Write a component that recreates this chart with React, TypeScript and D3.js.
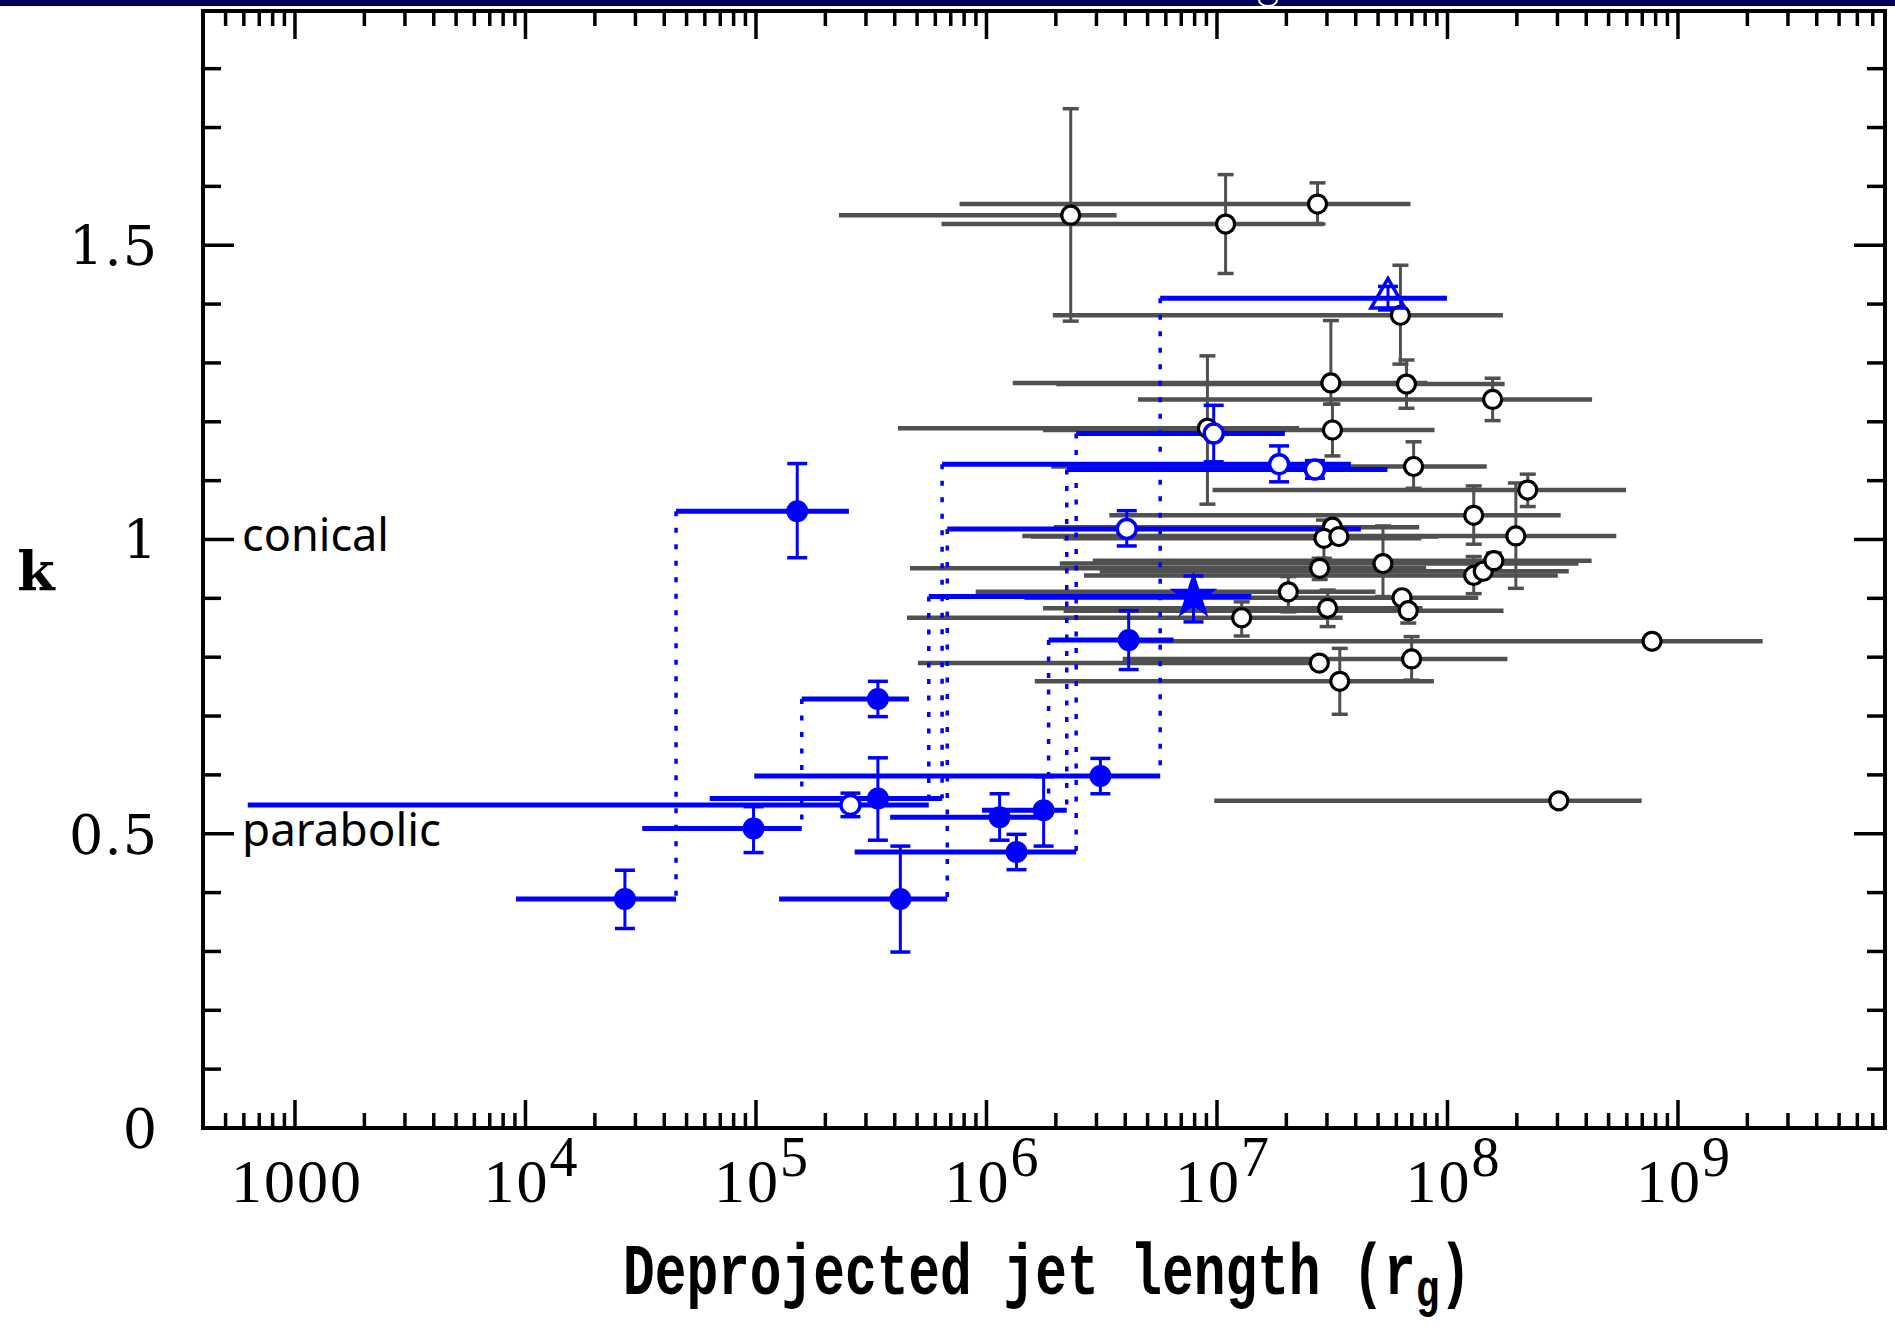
import React from 'react';
import * as d3 from 'd3';

// ---------------- data ----------------
// grey sample (open black circles, grey bars)
const grayX = [2.32e6, 1.09e7, 2.73e7, 6.25e7, 3.12e7, 6.64e7, 1.57e8, 9.09e6, 3.17e7, 7.13e7, 2.23e8, 1.30e8, 1.98e8, 3.17e7, 2.91e7, 3.38e7, 5.25e7, 2.79e7, 1.30e8, 1.43e8, 1.59e8, 2.04e7, 6.35e7, 6.76e7, 1.28e7, 3.02e7, 7.72e8, 6.99e7, 2.78e7, 3.41e7, 3.04e8];
const grayK = [1.551, 1.536, 1.570, 1.381, 1.266, 1.264, 1.238, 1.189, 1.186, 1.124, 1.084, 1.041, 1.006, 1.021, 1.002, 1.005, 0.959, 0.951, 0.939, 0.946, 0.964, 0.911, 0.901, 0.879, 0.867, 0.883, 0.827, 0.797, 0.790, 0.759, 0.556];
const grayKLo = [1.371, 1.452, 1.536, 1.298, 1.230, 1.223, 1.202, 1.060, 1.142, 1.087, 1.056, 0.992, 0.917, 1.021, 0.968, 1.005, 0.903, 0.932, 0.908, 0.946, 0.950, 0.877, 0.901, 0.858, 0.836, 0.852, 0.827, 0.761, 0.790, 0.703, 0.556];
const grayKHi = [1.732, 1.620, 1.606, 1.466, 1.372, 1.305, 1.274, 1.312, 1.230, 1.166, 1.111, 1.091, 1.096, 1.021, 1.033, 1.005, 1.023, 0.968, 0.971, 0.946, 0.977, 0.937, 0.901, 0.900, 0.894, 0.914, 0.827, 0.835, 0.790, 0.815, 0.556];
const grayXMin = [2.29e5, 6.38e5, 7.64e5, 1.94e6, 1.30e6, 2.01e6, 4.54e6, 4.13e5, 1.76e6, 1.91e6, 9.57e6, 3.41e6, 1.43e6, 1.96e6, 2.16e6, 1.56e6, 2.08e6, 4.66e5, 2.65e6, 3.10e6, 2.89e6, 8.98e5, 1.46e6, 2.16e6, 4.52e5, 1.76e6, 3.95e6, 3.90e6, 5.04e5, 1.62e6, 9.73e6];
const grayXMax = [3.67e6, 2.89e7, 6.91e7, 1.74e8, 8.18e7, 1.77e8, 4.24e8, 2.27e7, 8.79e7, 1.48e8, 5.95e8, 3.10e8, 5.40e8, 7.54e7, 7.70e7, 9.12e7, 3.70e8, 8.08e7, 3.01e8, 3.36e8, 4.22e8, 4.87e7, 1.36e8, 1.75e8, 3.51e7, 7.79e7, 2.33e9, 1.82e8, 3.07e7, 8.73e7, 6.96e8];

// blue sample: inner (lower k) segment
const blueLowX = [2.70e4, 9.76e4, 4.23e5, 3.38e5, 2.57e5, 3.12e6, 1.14e6, 1.77e6, 1.35e6];
const blueLowK = [0.389, 0.509, 0.389, 0.560, 0.549, 0.598, 0.528, 0.540, 0.469];
const blueLowKLo = [0.339, 0.468, 0.299, 0.489, 0.529, 0.568, 0.489, 0.479, 0.439];
const blueLowKHi = [0.438, 0.546, 0.479, 0.629, 0.569, 0.628, 0.568, 0.597, 0.499];
const blueLowXMin = [9.10e3, 3.21e4, 1.26e5, 6.30e4, 624, 9.83e4, 3.82e5, 9.56e5, 2.68e5];
const blueLowMarker = ['filled', 'filled', 'filled', 'filled', 'open', 'filled', 'filled', 'filled', 'filled'];
// break points
const blueBreakX = [4.50e4, 1.58e5, 6.76e5, 6.42e5, 5.62e5, 5.67e6, 1.86e6, 2.23e6, 2.45e6];
// blue sample: outer (upper k) segment
const blueUpX = [1.51e5, 3.38e5, 4.06e6, 1.86e7, 7.91e6, 5.52e7, 4.14e6, 2.66e7, 9.68e6];
const blueUpK = [1.048, 0.729, 1.018, 1.128, 0.903, 1.410, 0.829, 1.119, 1.180];
const blueUpKLo = [0.969, 0.699, 0.989, 1.098, 0.860, 1.390, 0.779, 1.104, 1.132];
const blueUpKHi = [1.129, 0.759, 1.049, 1.159, 0.938, 1.430, 0.879, 1.134, 1.228];
const blueUpXMax = [2.53e5, 4.61e5, 4.21e7, 3.81e7, 1.41e7, 9.95e7, 6.48e6, 5.49e7, 1.97e7];
const blueUpMarker = ['filled', 'filled', 'open', 'open', 'star', 'triangle', 'filled', 'open', 'open'];

// axes
const xMajorTicks = [1e3, 1e4, 1e5, 1e6, 1e7, 1e8, 1e9];
const xTickBase = ['1000', '10', '10', '10', '10', '10', '10'];
const xTickExp = ['', '4', '5', '6', '7', '8', '9'];
const yMajorTicks = [0, 0.5, 1, 1.5];
const yTickLabels = ['0', '0.5', '1', '1.5'];
const regionLabels = ['conical', 'parabolic'];
const regionK = [1, 0.5];
const regionWidth = [147, 199];

// ---------------- layout ----------------
const W = 1895, H = 1327;
const PL = 203, PR = 1885, PT = 11, PB = 1128;
const BLUE = '#0000ff';
const GRAY = '#505050';

export default function App() {
  const x = d3.scaleLog().domain([399, 7.91e9]).range([PL, PR]);
  const y = d3.scaleLinear().domain([0, 1.898]).range([PB, PT]);

  const xMinor: number[] = [];
  for (let d = 2; d <= 9; d++) {
    for (let m = 2; m <= 9; m++) {
      const v = m * Math.pow(10, d);
      if (v >= 399 && v <= 7.91e9) xMinor.push(v);
    }
  }
  const yMinor = d3.range(1, 19).filter(i => i % 5 !== 0).map(i => i / 10);

  const star = d3.symbol().type(d3.symbolStar).size(720)() as string;
  const tri = d3.symbol().type(d3.symbolTriangle).size(500)() as string;

  const errBar = (key: string, cx: number, lo: number, hi: number, color: string, w: number, cap: number, capW: number) => {
    if (Math.abs(hi - lo) < 1e-9) return null;
    return (
      <g key={key} stroke={color}>
        <line x1={cx} x2={cx} y1={y(lo)} y2={y(hi)} strokeWidth={w} />
        <line x1={cx - cap} x2={cx + cap} y1={y(lo)} y2={y(lo)} strokeWidth={capW} />
        <line x1={cx - cap} x2={cx + cap} y1={y(hi)} y2={y(hi)} strokeWidth={capW} />
      </g>
    );
  };

  const blueMarker = (key: string, type: string, cx: number, cy: number) => {
    if (type === 'filled') return <circle key={key} cx={cx} cy={cy} r={11} fill={BLUE} />;
    if (type === 'open') return <circle key={key} cx={cx} cy={cy} r={9.5} fill="#fff" stroke={BLUE} strokeWidth={3.5} />;
    if (type === 'star') return <path key={key} d={star} transform={`translate(${cx},${cy})`} fill={BLUE} />;
    return <path key={key} d={tri} transform={`translate(${cx},${cy})`} fill="none" stroke={BLUE} strokeWidth={3.5} />;
  };

  return (
    <svg width={W} height={H} style={{ position: 'absolute', left: 0, top: 0, background: '#fff' }}>
      <rect x={0} y={0} width={W} height={H} fill="#fff" />
      <rect x={0} y={0} width={W} height={6} fill="#00005a" />
      <ellipse cx={1268} cy={0} rx={9} ry={6} fill="none" stroke="#fff" strokeWidth={2} />

      {/* grey horizontal bars */}
      <g stroke={GRAY} strokeWidth={4.5}>
        {grayX.map((_, i) => (
          <line key={'gb' + i} x1={x(grayXMin[i])} x2={x(grayXMax[i])} y1={y(grayK[i])} y2={y(grayK[i])} />
        ))}
      </g>
      {/* grey error bars */}
      <g>
        {grayX.map((v, i) => errBar('ge' + i, x(v), grayKLo[i], grayKHi[i], GRAY, 3, 8, 3.5))}
      </g>

      {/* blue bars */}
      <g stroke={BLUE} strokeWidth={5}>
        {blueLowX.map((_, i) => (
          <line key={'bl' + i} x1={x(blueLowXMin[i])} x2={x(blueBreakX[i])} y1={y(blueLowK[i])} y2={y(blueLowK[i])} />
        ))}
        {blueUpX.map((_, i) => (
          <line key={'bu' + i} x1={x(blueBreakX[i])} x2={x(blueUpXMax[i])} y1={y(blueUpK[i])} y2={y(blueUpK[i])} />
        ))}
      </g>
      {/* dotted connectors */}
      <g stroke={BLUE} strokeWidth={3.5} strokeDasharray="5 11.5">
        {blueBreakX.map((v, i) => (
          <line key={'bd' + i} x1={x(v)} x2={x(v)} y1={y(blueUpK[i])} y2={y(blueLowK[i])} />
        ))}
      </g>
      {/* blue error bars */}
      <g>
        {blueLowX.map((v, i) => errBar('ble' + i, x(v), blueLowKLo[i], blueLowKHi[i], BLUE, 3, 10, 3.5))}
        {blueUpX.map((v, i) => errBar('bue' + i, x(v), blueUpKLo[i], blueUpKHi[i], BLUE, 3, 10, 3.5))}
      </g>

      {/* grey markers */}
      <g>
        {grayX.map((v, i) => (
          <circle key={'gc' + i} cx={x(v)} cy={y(grayK[i])} r={9} fill="#fff" stroke="#000" strokeWidth={3.2} />
        ))}
      </g>
      {/* blue markers */}
      <g>
        {blueLowX.map((v, i) => blueMarker('blm' + i, blueLowMarker[i], x(v), y(blueLowK[i])))}
        {blueUpX.map((v, i) => blueMarker('bum' + i, blueUpMarker[i], x(v), y(blueUpK[i])))}
      </g>

      {/* frame */}
      <rect x={PL} y={PT} width={PR - PL} height={PB - PT} fill="none" stroke="#000" strokeWidth={4} />

      {/* x ticks */}
      <g stroke="#000" strokeWidth={3.5}>
        {xMajorTicks.map(v => (
          <g key={'xt' + v}>
            <line x1={x(v)} x2={x(v)} y1={PB} y2={PB - 28} />
            <line x1={x(v)} x2={x(v)} y1={PT} y2={PT + 28} />
          </g>
        ))}
        {xMinor.map(v => (
          <g key={'xm' + v}>
            <line x1={x(v)} x2={x(v)} y1={PB} y2={PB - 15} />
            <line x1={x(v)} x2={x(v)} y1={PT} y2={PT + 15} />
          </g>
        ))}
      </g>
      {/* y ticks */}
      <g stroke="#000" strokeWidth={3.5}>
        {yMajorTicks.map(v => (
          <g key={'yt' + v}>
            <line x1={PL} x2={PL + 31} y1={y(v)} y2={y(v)} />
            <line x1={PR} x2={PR - 31} y1={y(v)} y2={y(v)} />
          </g>
        ))}
        {yMinor.map(v => (
          <g key={'ym' + v}>
            <line x1={PL} x2={PL + 18} y1={y(v)} y2={y(v)} />
            <line x1={PR} x2={PR - 18} y1={y(v)} y2={y(v)} />
          </g>
        ))}
      </g>

      {/* x tick labels */}
      <g fontFamily="'Liberation Serif', serif" fill="#000" textAnchor="middle">
        {xMajorTicks.map((v, i) => (
          <text key={'xl' + v} x={x(v) + (xTickExp[i] ? 6 : 2)} y={1202} fontSize={62} letterSpacing={2}>
            {xTickBase[i]}
            {xTickExp[i] ? <tspan fontSize={56} dy={-26}>{xTickExp[i]}</tspan> : null}
          </text>
        ))}
      </g>
      {/* y tick labels */}
      <g fontFamily="'DejaVu Serif', serif" fill="#000" textAnchor="end">
        {yMajorTicks.map((v, i) => (
          <text key={'yl' + v} x={158} y={y(v) + 20} fontSize={54} letterSpacing={1}>{yTickLabels[i]}</text>
        ))}
      </g>
      {/* axis titles */}
      <text x={36} y={590} fontFamily="'DejaVu Serif', serif" fontSize={54} fontWeight="bold" textAnchor="middle">k</text>
      <text transform="translate(623,1294) scale(0.734,1)" fontFamily="'Liberation Mono', monospace" fontSize={72} fontWeight="bold" fill="#000">
        Deprojected jet length (r<tspan fontSize={54} dy={12}>g</tspan><tspan fontSize={72} dy={-12}>)</tspan>
      </text>

      {/* region labels */}
      <g fontFamily="'Noto Sans', 'Open Sans', sans-serif" fill="#000">
        {regionLabels.map((t, i) => (
          <text key={t} x={242} y={y(regionK[i]) + 12} fontSize={46} textLength={regionWidth[i]} lengthAdjust="spacingAndGlyphs">{t}</text>
        ))}
      </g>
    </svg>
  );
}
